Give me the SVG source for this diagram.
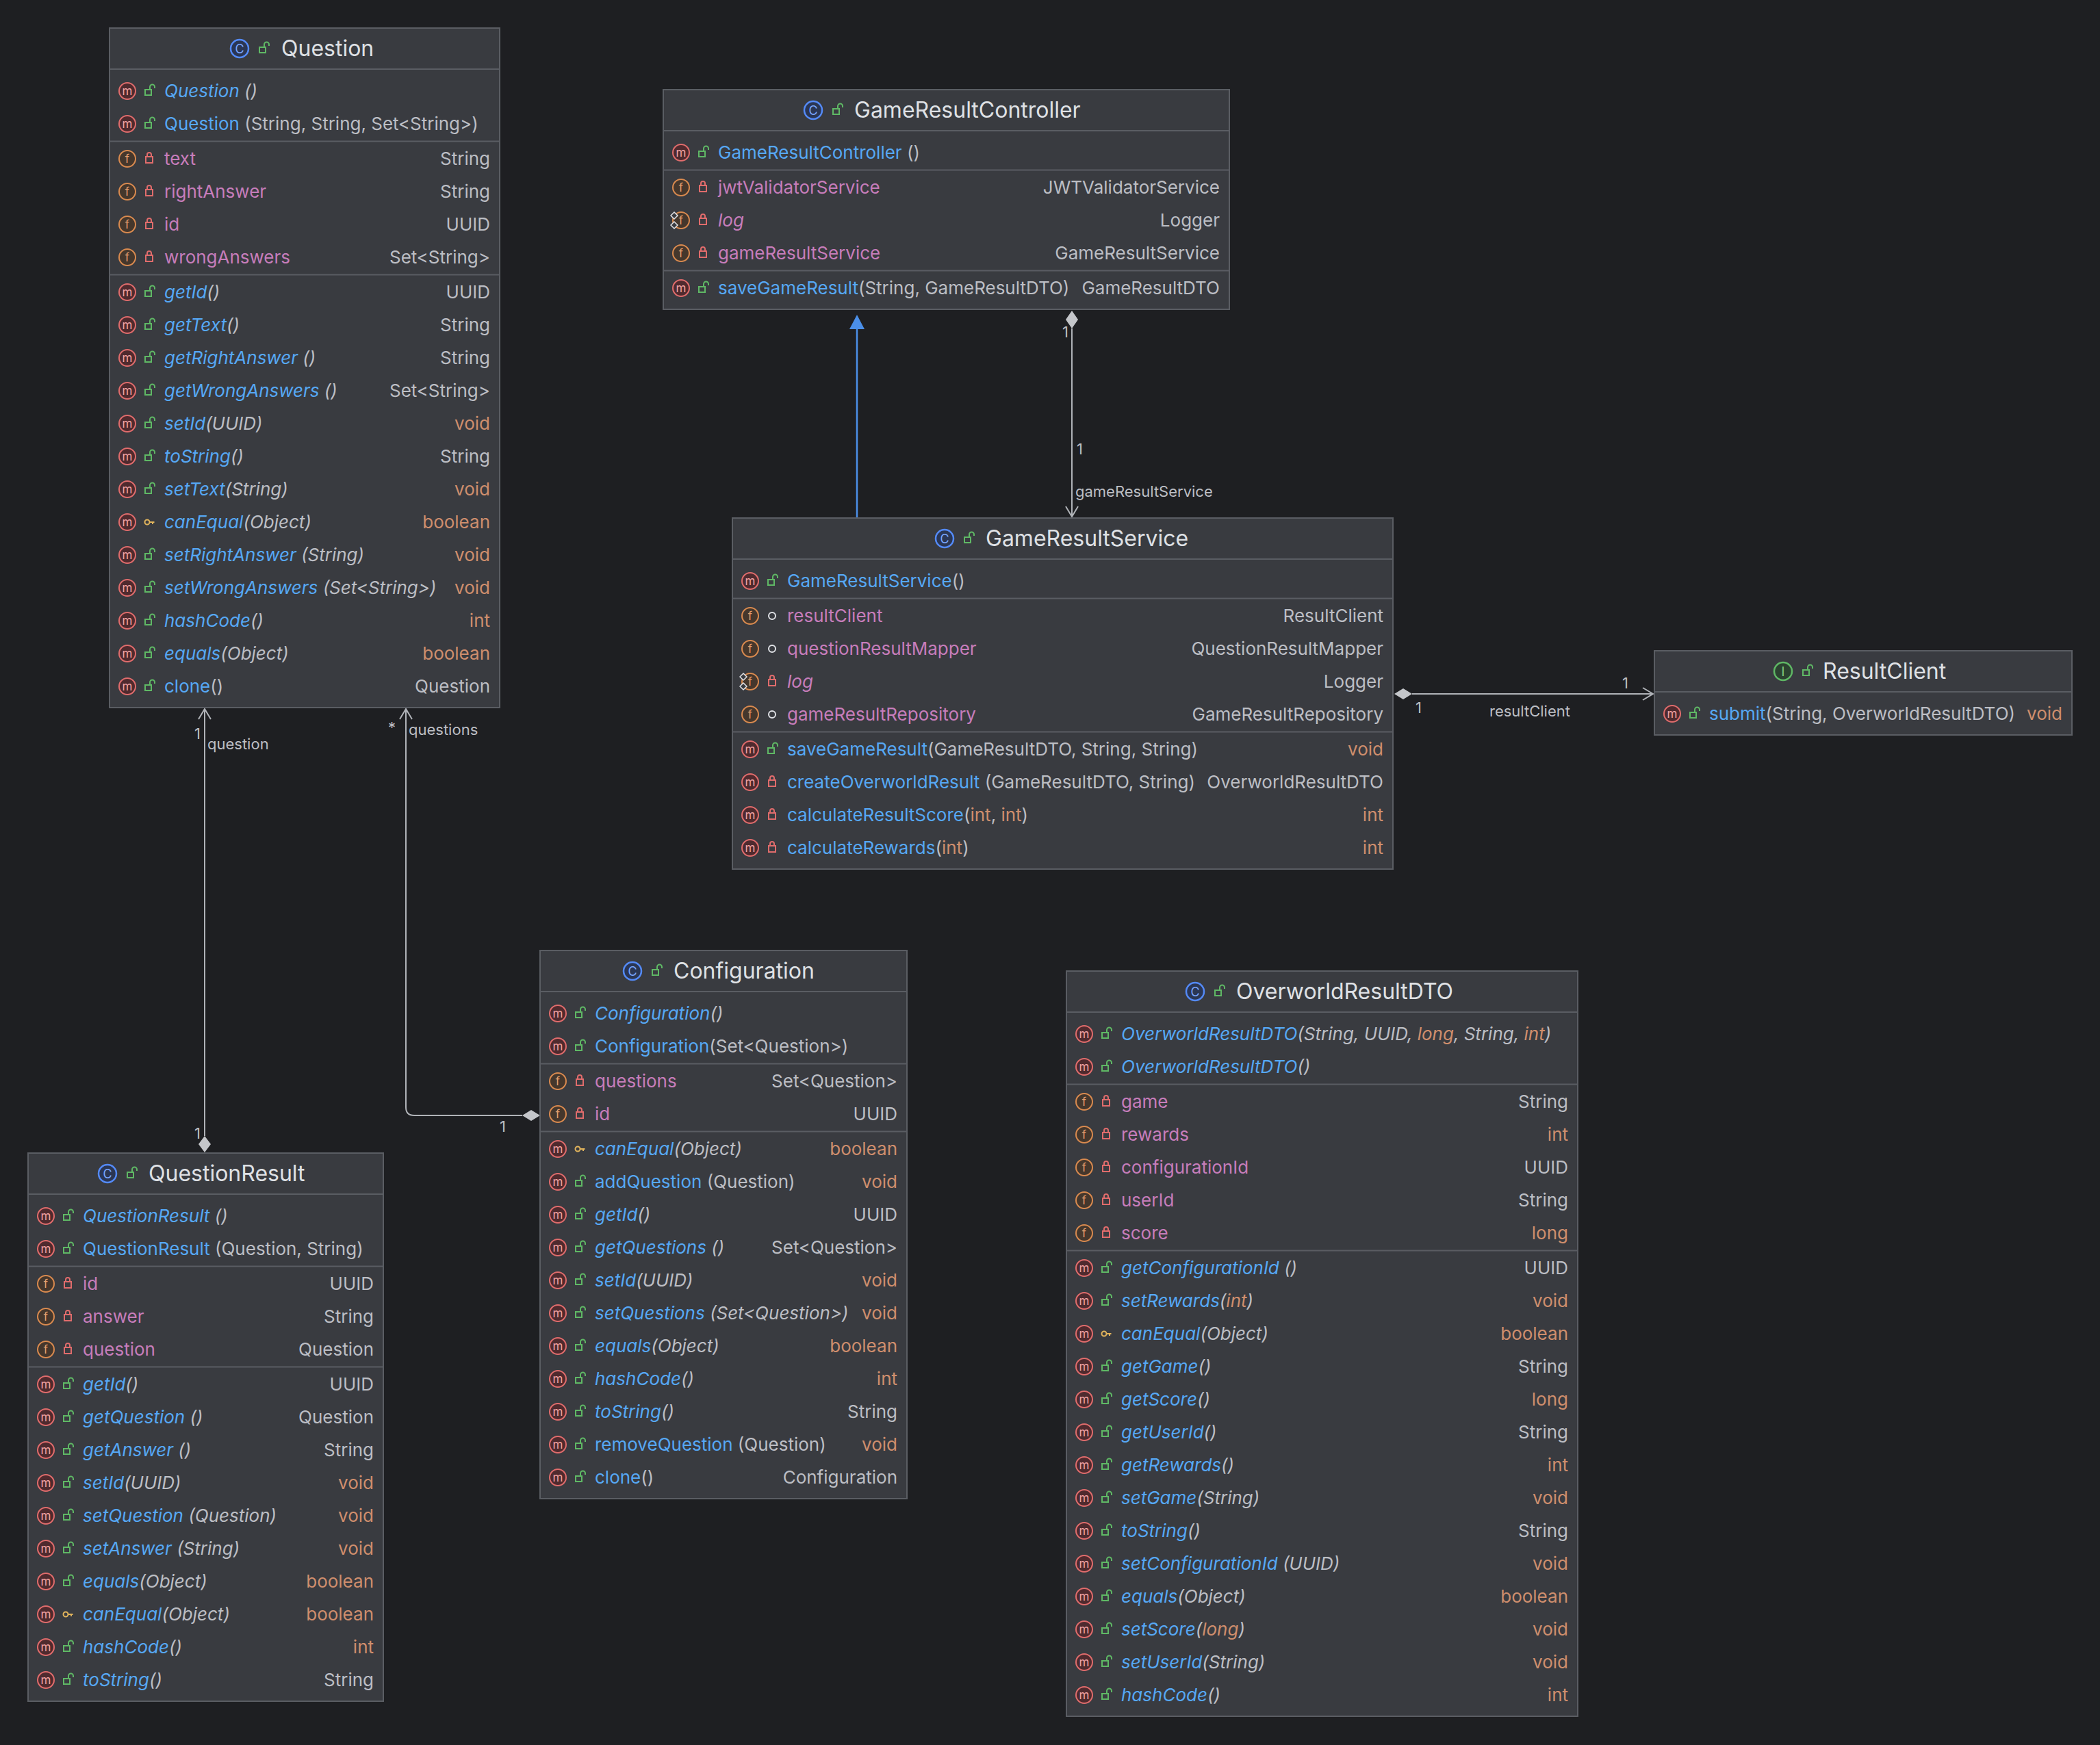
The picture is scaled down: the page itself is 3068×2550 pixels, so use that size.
<svg xmlns="http://www.w3.org/2000/svg" width="3068" height="2550" viewBox="0 0 3068 2550">
<style>
text{font-family:Inter,"Noto Sans","Liberation Sans",sans-serif;font-size:26px;fill:#bcbec4}
.title{font-size:32px;fill:#dfe1e5}
.box{fill:#393b40;stroke:#5a5d63;stroke-width:2}
.sep{stroke:#5a5d63;stroke-width:2}
.n{fill:#56a8f5}.f{fill:#c77dbb}.t{fill:#bcbec4}.p{fill:#cf8e6d}.i{font-style:italic}
.r{text-anchor:end}
.lbl{font-size:22px;fill:#bcbec4}
.c{stroke:#b0b3b8;stroke-width:2;fill:none}
</style>
<defs>
<g id="m"><circle r="12" fill="#4f2a2e" stroke="#e06c6c" stroke-width="2"/><text y="6" text-anchor="middle" style="font-size:17px;fill:#f2a3a3">m</text></g>
<g id="fi"><circle r="12" fill="#45372c" stroke="#d98a4f" stroke-width="2"/><text y="6" text-anchor="middle" style="font-size:17px;fill:#e3a070">f</text></g>
<g id="sf"><circle r="12" fill="#45372c" stroke="#d98a4f" stroke-width="2"/><text y="6" text-anchor="middle" style="font-size:17px;fill:#e3a070">f</text><path d="M-10 -12 l5 5 l-5 5 l-5 -5z M-10 2 l5 5 l-5 5 l-5 -5z" fill="#393b40" stroke="#dfe1e5" stroke-width="1.5"/></g>
<g id="ci"><circle r="13" fill="#2a3654" stroke="#548af7" stroke-width="2.5"/><text y="7" text-anchor="middle" style="font-size:18px;fill:#7aa6ff">C</text></g>
<g id="ii"><circle r="13" fill="#2b4230" stroke="#5fb865" stroke-width="2.5"/><text y="7" text-anchor="middle" style="font-size:18px;fill:#7fd085">I</text></g>
<g id="pub"><rect x="-6" y="0" width="9" height="8" fill="none" stroke="#5fb865" stroke-width="2"/><path d="M1 0 v-4 a3.5 3.5 0 0 1 7 0 v2" stroke="#5fb865" fill="none" stroke-width="2"/></g>
<g id="priv"><rect x="-5" y="-1" width="10" height="9" fill="none" stroke="#e06c6c" stroke-width="2"/><path d="M-3 -1 v-3 a3 3 0 0 1 6 0 v3" stroke="#e06c6c" fill="none" stroke-width="2"/></g>
<g id="prot"><circle cx="-3" cy="0" r="3.5" fill="none" stroke="#e0b35c" stroke-width="2"/><path d="M0.5 0 h7 M5 0 v3" stroke="#e0b35c" stroke-width="2"/></g>
<g id="pkg"><circle r="5" fill="none" stroke="#dfe1e5" stroke-width="2"/></g>
</defs>
<rect width="3068" height="2550" fill="#1e1f22"/>

<g id="connectors">
<line x1="1252" y1="757" x2="1252" y2="478" stroke="#4b8fe8" stroke-width="2.5"/>
<polygon points="1252,460 1241,481 1263,481" fill="#4b8fe8"/>
<polygon points="1566,454 1575,467 1566,480 1557,467" fill="#c4c6ca"/>
<line class="c" x1="1566" y1="480" x2="1566" y2="755"/>
<polyline class="c" points="1557,740 1566,755 1575,740"/>
<polygon points="2037,1014 2050,1006 2063,1014 2050,1022" fill="#c4c6ca"/>
<line class="c" x1="2063" y1="1014" x2="2415" y2="1014"/>
<polyline class="c" points="2400,1005 2415,1014 2400,1023"/>
<polygon points="299,1660 308,1672 299,1684 290,1672" fill="#c4c6ca"/>
<line class="c" x1="299" y1="1660" x2="299" y2="1036"/>
<polyline class="c" points="290,1051 299,1036 308,1051"/>
<polygon points="763,1630 776,1622 789,1630 776,1638" fill="#c4c6ca"/>
<path class="c" d="M763 1630 H605 Q593 1630 593 1618 V1036"/>
<polyline class="c" points="584,1051 593,1036 602,1051"/>
<text class="lbl" x="1552" y="493">1</text>
<text class="lbl" x="1573" y="664">1</text>
<text class="lbl" x="1571" y="726">gameResultService</text>
<text class="lbl" x="2068" y="1042">1</text>
<text class="lbl" x="2370" y="1006">1</text>
<text class="lbl" x="2176" y="1047">resultClient</text>
<text class="lbl" x="284" y="1080">1</text>
<text class="lbl" x="303" y="1095">question</text>
<text class="lbl" x="284" y="1664">1</text>
<text class="lbl" x="567" y="1071">*</text>
<text class="lbl" x="597" y="1074">questions</text>
<text class="lbl" x="730" y="1654">1</text>
</g>

<g id="Question" transform="translate(160,0)">
<rect class="box" x="0" y="41" width="570" height="993"/>
<line class="sep" x1="0" y1="101" x2="570" y2="101"/><line class="sep" x1="0" y1="206.5" x2="570" y2="206.5"/><line class="sep" x1="0" y1="401.5" x2="570" y2="401.5"/>
<use href="#ci" x="190" y="71"/><use href="#pub" x="225" y="69"/><text class="title" x="251" y="82">Question</text>
<use href="#m" x="26" y="133"/><use href="#pub" x="58" y="131"/><text class="i" x="80" y="142"><tspan class="n">Question</tspan> ()</text>
<use href="#m" x="26" y="181"/><use href="#pub" x="58" y="179"/><text x="80" y="190"><tspan class="n">Question</tspan> (String, String, Set&lt;String&gt;)</text>
<use href="#fi" x="26" y="232"/><use href="#priv" x="58" y="230"/><text class="f" x="80" y="241">text</text><text class="r" x="556" y="241">String</text>
<use href="#fi" x="26" y="280"/><use href="#priv" x="58" y="278"/><text class="f" x="80" y="289">rightAnswer</text><text class="r" x="556" y="289">String</text>
<use href="#fi" x="26" y="328"/><use href="#priv" x="58" y="326"/><text class="f" x="80" y="337">id</text><text class="r" x="556" y="337">UUID</text>
<use href="#fi" x="26" y="376"/><use href="#priv" x="58" y="374"/><text class="f" x="80" y="385">wrongAnswers</text><text class="r" x="556" y="385">Set&lt;String&gt;</text>
<use href="#m" x="26" y="427"/><use href="#pub" x="58" y="425"/><text class="i" x="80" y="436"><tspan class="n">getId</tspan>()</text><text class="r" x="556" y="436">UUID</text>
<use href="#m" x="26" y="475"/><use href="#pub" x="58" y="473"/><text class="i" x="80" y="484"><tspan class="n">getText</tspan>()</text><text class="r" x="556" y="484">String</text>
<use href="#m" x="26" y="523"/><use href="#pub" x="58" y="521"/><text class="i" x="80" y="532"><tspan class="n">getRightAnswer</tspan> ()</text><text class="r" x="556" y="532">String</text>
<use href="#m" x="26" y="571"/><use href="#pub" x="58" y="569"/><text class="i" x="80" y="580"><tspan class="n">getWrongAnswers</tspan> ()</text><text class="r" x="556" y="580">Set&lt;String&gt;</text>
<use href="#m" x="26" y="619"/><use href="#pub" x="58" y="617"/><text class="i" x="80" y="628"><tspan class="n">setId</tspan>(UUID)</text><text class="r p" x="556" y="628">void</text>
<use href="#m" x="26" y="667"/><use href="#pub" x="58" y="665"/><text class="i" x="80" y="676"><tspan class="n">toString</tspan>()</text><text class="r" x="556" y="676">String</text>
<use href="#m" x="26" y="715"/><use href="#pub" x="58" y="713"/><text class="i" x="80" y="724"><tspan class="n">setText</tspan>(String)</text><text class="r p" x="556" y="724">void</text>
<use href="#m" x="26" y="763"/><use href="#prot" x="58" y="763"/><text class="i" x="80" y="772"><tspan class="n">canEqual</tspan>(Object)</text><text class="r p" x="556" y="772">boolean</text>
<use href="#m" x="26" y="811"/><use href="#pub" x="58" y="809"/><text class="i" x="80" y="820"><tspan class="n">setRightAnswer</tspan> (String)</text><text class="r p" x="556" y="820">void</text>
<use href="#m" x="26" y="859"/><use href="#pub" x="58" y="857"/><text class="i" x="80" y="868"><tspan class="n">setWrongAnswers</tspan> (Set&lt;String&gt;)</text><text class="r p" x="556" y="868">void</text>
<use href="#m" x="26" y="907"/><use href="#pub" x="58" y="905"/><text class="i" x="80" y="916"><tspan class="n">hashCode</tspan>()</text><text class="r p" x="556" y="916">int</text>
<use href="#m" x="26" y="955"/><use href="#pub" x="58" y="953"/><text class="i" x="80" y="964"><tspan class="n">equals</tspan>(Object)</text><text class="r p" x="556" y="964">boolean</text>
<use href="#m" x="26" y="1003"/><use href="#pub" x="58" y="1001"/><text x="80" y="1012"><tspan class="n">clone</tspan>()</text><text class="r" x="556" y="1012">Question</text>
</g>

<g id="GameResultController" transform="translate(969,0)">
<rect class="box" x="0" y="131" width="827" height="321"/>
<line class="sep" x1="0" y1="191" x2="827" y2="191"/><line class="sep" x1="0" y1="248.5" x2="827" y2="248.5"/><line class="sep" x1="0" y1="395.5" x2="827" y2="395.5"/>
<use href="#ci" x="219" y="161"/><use href="#pub" x="254" y="159"/><text class="title" x="279" y="172">GameResultController</text>
<use href="#m" x="26" y="223"/><use href="#pub" x="58" y="221"/><text x="80" y="232"><tspan class="n">GameResultController</tspan> ()</text>
<use href="#fi" x="26" y="274"/><use href="#priv" x="58" y="272"/><text class="f" x="80" y="283">jwtValidatorService</text><text class="r" x="813" y="283">JWTValidatorService</text>
<use href="#sf" x="26" y="322"/><use href="#priv" x="58" y="320"/><text class="f i" x="80" y="331">log</text><text class="r" x="813" y="331">Logger</text>
<use href="#fi" x="26" y="370"/><use href="#priv" x="58" y="368"/><text class="f" x="80" y="379">gameResultService</text><text class="r" x="813" y="379">GameResultService</text>
<use href="#m" x="26" y="421"/><use href="#pub" x="58" y="419"/><text x="80" y="430"><tspan class="n">saveGameResult</tspan>(String, GameResultDTO)</text><text class="r" x="813" y="430">GameResultDTO</text>
</g>

<g id="GameResultService" transform="translate(1070,0)">
<rect class="box" x="0" y="757" width="965" height="513"/>
<line class="sep" x1="0" y1="817" x2="965" y2="817"/><line class="sep" x1="0" y1="874.5" x2="965" y2="874.5"/><line class="sep" x1="0" y1="1069.5" x2="965" y2="1069.5"/>
<use href="#ci" x="310" y="787"/><use href="#pub" x="345" y="785"/><text class="title" x="370" y="798">GameResultService</text>
<use href="#m" x="26" y="849"/><use href="#pub" x="58" y="847"/><text x="80" y="858"><tspan class="n">GameResultService</tspan>()</text>
<use href="#fi" x="26" y="900"/><use href="#pkg" x="58" y="900"/><text class="f" x="80" y="909">resultClient</text><text class="r" x="951" y="909">ResultClient</text>
<use href="#fi" x="26" y="948"/><use href="#pkg" x="58" y="948"/><text class="f" x="80" y="957">questionResultMapper</text><text class="r" x="951" y="957">QuestionResultMapper</text>
<use href="#sf" x="26" y="996"/><use href="#priv" x="58" y="994"/><text class="f i" x="80" y="1005">log</text><text class="r" x="951" y="1005">Logger</text>
<use href="#fi" x="26" y="1044"/><use href="#pkg" x="58" y="1044"/><text class="f" x="80" y="1053">gameResultRepository</text><text class="r" x="951" y="1053">GameResultRepository</text>
<use href="#m" x="26" y="1095"/><use href="#pub" x="58" y="1093"/><text x="80" y="1104"><tspan class="n">saveGameResult</tspan>(GameResultDTO, String, String)</text><text class="r p" x="951" y="1104">void</text>
<use href="#m" x="26" y="1143"/><use href="#priv" x="58" y="1141"/><text x="80" y="1152"><tspan class="n">createOverworldResult</tspan> (GameResultDTO, String)</text><text class="r" x="951" y="1152">OverworldResultDTO</text>
<use href="#m" x="26" y="1191"/><use href="#priv" x="58" y="1189"/><text x="80" y="1200"><tspan class="n">calculateResultScore</tspan>(<tspan class="p">int</tspan>, <tspan class="p">int</tspan>)</text><text class="r p" x="951" y="1200">int</text>
<use href="#m" x="26" y="1239"/><use href="#priv" x="58" y="1237"/><text x="80" y="1248"><tspan class="n">calculateRewards</tspan>(<tspan class="p">int</tspan>)</text><text class="r p" x="951" y="1248">int</text>
</g>

<g id="ResultClient" transform="translate(2417,0)">
<rect class="box" x="0" y="951" width="610" height="123"/>
<line class="sep" x1="0" y1="1011" x2="610" y2="1011"/>
<use href="#ii" x="188" y="981"/><use href="#pub" x="223" y="979"/><text class="title" x="246" y="992">ResultClient</text>
<use href="#m" x="26" y="1043"/><use href="#pub" x="58" y="1041"/><text x="80" y="1052"><tspan class="n">submit</tspan>(String, OverworldResultDTO)</text><text class="r p" x="596" y="1052">void</text>
</g>

<g id="Configuration" transform="translate(789,0)">
<rect class="box" x="0" y="1389" width="536" height="801"/>
<line class="sep" x1="0" y1="1449" x2="536" y2="1449"/><line class="sep" x1="0" y1="1554.5" x2="536" y2="1554.5"/><line class="sep" x1="0" y1="1653.5" x2="536" y2="1653.5"/>
<use href="#ci" x="135" y="1419"/><use href="#pub" x="170" y="1417"/><text class="title" x="195" y="1430">Configuration</text>
<use href="#m" x="26" y="1481"/><use href="#pub" x="58" y="1479"/><text class="i" x="80" y="1490"><tspan class="n">Configuration</tspan>()</text>
<use href="#m" x="26" y="1529"/><use href="#pub" x="58" y="1527"/><text x="80" y="1538"><tspan class="n">Configuration</tspan>(Set&lt;Question&gt;)</text>
<use href="#fi" x="26" y="1580"/><use href="#priv" x="58" y="1578"/><text class="f" x="80" y="1589">questions</text><text class="r" x="522" y="1589">Set&lt;Question&gt;</text>
<use href="#fi" x="26" y="1628"/><use href="#priv" x="58" y="1626"/><text class="f" x="80" y="1637">id</text><text class="r" x="522" y="1637">UUID</text>
<use href="#m" x="26" y="1679"/><use href="#prot" x="58" y="1679"/><text class="i" x="80" y="1688"><tspan class="n">canEqual</tspan>(Object)</text><text class="r p" x="522" y="1688">boolean</text>
<use href="#m" x="26" y="1727"/><use href="#pub" x="58" y="1725"/><text x="80" y="1736"><tspan class="n">addQuestion</tspan> (Question)</text><text class="r p" x="522" y="1736">void</text>
<use href="#m" x="26" y="1775"/><use href="#pub" x="58" y="1773"/><text class="i" x="80" y="1784"><tspan class="n">getId</tspan>()</text><text class="r" x="522" y="1784">UUID</text>
<use href="#m" x="26" y="1823"/><use href="#pub" x="58" y="1821"/><text class="i" x="80" y="1832"><tspan class="n">getQuestions</tspan> ()</text><text class="r" x="522" y="1832">Set&lt;Question&gt;</text>
<use href="#m" x="26" y="1871"/><use href="#pub" x="58" y="1869"/><text class="i" x="80" y="1880"><tspan class="n">setId</tspan>(UUID)</text><text class="r p" x="522" y="1880">void</text>
<use href="#m" x="26" y="1919"/><use href="#pub" x="58" y="1917"/><text class="i" x="80" y="1928"><tspan class="n">setQuestions</tspan> (Set&lt;Question&gt;)</text><text class="r p" x="522" y="1928">void</text>
<use href="#m" x="26" y="1967"/><use href="#pub" x="58" y="1965"/><text class="i" x="80" y="1976"><tspan class="n">equals</tspan>(Object)</text><text class="r p" x="522" y="1976">boolean</text>
<use href="#m" x="26" y="2015"/><use href="#pub" x="58" y="2013"/><text class="i" x="80" y="2024"><tspan class="n">hashCode</tspan>()</text><text class="r p" x="522" y="2024">int</text>
<use href="#m" x="26" y="2063"/><use href="#pub" x="58" y="2061"/><text class="i" x="80" y="2072"><tspan class="n">toString</tspan>()</text><text class="r" x="522" y="2072">String</text>
<use href="#m" x="26" y="2111"/><use href="#pub" x="58" y="2109"/><text x="80" y="2120"><tspan class="n">removeQuestion</tspan> (Question)</text><text class="r p" x="522" y="2120">void</text>
<use href="#m" x="26" y="2159"/><use href="#pub" x="58" y="2157"/><text x="80" y="2168"><tspan class="n">clone</tspan>()</text><text class="r" x="522" y="2168">Configuration</text>
</g>

<g id="OverworldResultDTO" transform="translate(1558,0)">
<rect class="box" x="0" y="1419" width="747" height="1089"/>
<line class="sep" x1="0" y1="1479" x2="747" y2="1479"/><line class="sep" x1="0" y1="1584.5" x2="747" y2="1584.5"/><line class="sep" x1="0" y1="1827.5" x2="747" y2="1827.5"/>
<use href="#ci" x="188" y="1449"/><use href="#pub" x="223" y="1447"/><text class="title" x="248" y="1460">OverworldResultDTO</text>
<use href="#m" x="26" y="1511"/><use href="#pub" x="58" y="1509"/><text class="i" x="80" y="1520"><tspan class="n">OverworldResultDTO</tspan>(String, UUID, <tspan class="p">long</tspan>, String, <tspan class="p">int</tspan>)</text>
<use href="#m" x="26" y="1559"/><use href="#pub" x="58" y="1557"/><text class="i" x="80" y="1568"><tspan class="n">OverworldResultDTO</tspan>()</text>
<use href="#fi" x="26" y="1610"/><use href="#priv" x="58" y="1608"/><text class="f" x="80" y="1619">game</text><text class="r" x="733" y="1619">String</text>
<use href="#fi" x="26" y="1658"/><use href="#priv" x="58" y="1656"/><text class="f" x="80" y="1667">rewards</text><text class="r p" x="733" y="1667">int</text>
<use href="#fi" x="26" y="1706"/><use href="#priv" x="58" y="1704"/><text class="f" x="80" y="1715">configurationId</text><text class="r" x="733" y="1715">UUID</text>
<use href="#fi" x="26" y="1754"/><use href="#priv" x="58" y="1752"/><text class="f" x="80" y="1763">userId</text><text class="r" x="733" y="1763">String</text>
<use href="#fi" x="26" y="1802"/><use href="#priv" x="58" y="1800"/><text class="f" x="80" y="1811">score</text><text class="r p" x="733" y="1811">long</text>
<use href="#m" x="26" y="1853"/><use href="#pub" x="58" y="1851"/><text class="i" x="80" y="1862"><tspan class="n">getConfigurationId</tspan> ()</text><text class="r" x="733" y="1862">UUID</text>
<use href="#m" x="26" y="1901"/><use href="#pub" x="58" y="1899"/><text class="i" x="80" y="1910"><tspan class="n">setRewards</tspan>(<tspan class="p">int</tspan>)</text><text class="r p" x="733" y="1910">void</text>
<use href="#m" x="26" y="1949"/><use href="#prot" x="58" y="1949"/><text class="i" x="80" y="1958"><tspan class="n">canEqual</tspan>(Object)</text><text class="r p" x="733" y="1958">boolean</text>
<use href="#m" x="26" y="1997"/><use href="#pub" x="58" y="1995"/><text class="i" x="80" y="2006"><tspan class="n">getGame</tspan>()</text><text class="r" x="733" y="2006">String</text>
<use href="#m" x="26" y="2045"/><use href="#pub" x="58" y="2043"/><text class="i" x="80" y="2054"><tspan class="n">getScore</tspan>()</text><text class="r p" x="733" y="2054">long</text>
<use href="#m" x="26" y="2093"/><use href="#pub" x="58" y="2091"/><text class="i" x="80" y="2102"><tspan class="n">getUserId</tspan>()</text><text class="r" x="733" y="2102">String</text>
<use href="#m" x="26" y="2141"/><use href="#pub" x="58" y="2139"/><text class="i" x="80" y="2150"><tspan class="n">getRewards</tspan>()</text><text class="r p" x="733" y="2150">int</text>
<use href="#m" x="26" y="2189"/><use href="#pub" x="58" y="2187"/><text class="i" x="80" y="2198"><tspan class="n">setGame</tspan>(String)</text><text class="r p" x="733" y="2198">void</text>
<use href="#m" x="26" y="2237"/><use href="#pub" x="58" y="2235"/><text class="i" x="80" y="2246"><tspan class="n">toString</tspan>()</text><text class="r" x="733" y="2246">String</text>
<use href="#m" x="26" y="2285"/><use href="#pub" x="58" y="2283"/><text class="i" x="80" y="2294"><tspan class="n">setConfigurationId</tspan> (UUID)</text><text class="r p" x="733" y="2294">void</text>
<use href="#m" x="26" y="2333"/><use href="#pub" x="58" y="2331"/><text class="i" x="80" y="2342"><tspan class="n">equals</tspan>(Object)</text><text class="r p" x="733" y="2342">boolean</text>
<use href="#m" x="26" y="2381"/><use href="#pub" x="58" y="2379"/><text class="i" x="80" y="2390"><tspan class="n">setScore</tspan>(<tspan class="p">long</tspan>)</text><text class="r p" x="733" y="2390">void</text>
<use href="#m" x="26" y="2429"/><use href="#pub" x="58" y="2427"/><text class="i" x="80" y="2438"><tspan class="n">setUserId</tspan>(String)</text><text class="r p" x="733" y="2438">void</text>
<use href="#m" x="26" y="2477"/><use href="#pub" x="58" y="2475"/><text class="i" x="80" y="2486"><tspan class="n">hashCode</tspan>()</text><text class="r p" x="733" y="2486">int</text>
</g>

<g id="QuestionResult" transform="translate(41,0)">
<rect class="box" x="0" y="1685" width="519" height="801"/>
<line class="sep" x1="0" y1="1745" x2="519" y2="1745"/><line class="sep" x1="0" y1="1850.5" x2="519" y2="1850.5"/><line class="sep" x1="0" y1="1997.5" x2="519" y2="1997.5"/>
<use href="#ci" x="116" y="1715"/><use href="#pub" x="151" y="1713"/><text class="title" x="176" y="1726">QuestionResult</text>
<use href="#m" x="26" y="1777"/><use href="#pub" x="58" y="1775"/><text class="i" x="80" y="1786"><tspan class="n">QuestionResult</tspan> ()</text>
<use href="#m" x="26" y="1825"/><use href="#pub" x="58" y="1823"/><text x="80" y="1834"><tspan class="n">QuestionResult</tspan> (Question, String)</text>
<use href="#fi" x="26" y="1876"/><use href="#priv" x="58" y="1874"/><text class="f" x="80" y="1885">id</text><text class="r" x="505" y="1885">UUID</text>
<use href="#fi" x="26" y="1924"/><use href="#priv" x="58" y="1922"/><text class="f" x="80" y="1933">answer</text><text class="r" x="505" y="1933">String</text>
<use href="#fi" x="26" y="1972"/><use href="#priv" x="58" y="1970"/><text class="f" x="80" y="1981">question</text><text class="r" x="505" y="1981">Question</text>
<use href="#m" x="26" y="2023"/><use href="#pub" x="58" y="2021"/><text class="i" x="80" y="2032"><tspan class="n">getId</tspan>()</text><text class="r" x="505" y="2032">UUID</text>
<use href="#m" x="26" y="2071"/><use href="#pub" x="58" y="2069"/><text class="i" x="80" y="2080"><tspan class="n">getQuestion</tspan> ()</text><text class="r" x="505" y="2080">Question</text>
<use href="#m" x="26" y="2119"/><use href="#pub" x="58" y="2117"/><text class="i" x="80" y="2128"><tspan class="n">getAnswer</tspan> ()</text><text class="r" x="505" y="2128">String</text>
<use href="#m" x="26" y="2167"/><use href="#pub" x="58" y="2165"/><text class="i" x="80" y="2176"><tspan class="n">setId</tspan>(UUID)</text><text class="r p" x="505" y="2176">void</text>
<use href="#m" x="26" y="2215"/><use href="#pub" x="58" y="2213"/><text class="i" x="80" y="2224"><tspan class="n">setQuestion</tspan> (Question)</text><text class="r p" x="505" y="2224">void</text>
<use href="#m" x="26" y="2263"/><use href="#pub" x="58" y="2261"/><text class="i" x="80" y="2272"><tspan class="n">setAnswer</tspan> (String)</text><text class="r p" x="505" y="2272">void</text>
<use href="#m" x="26" y="2311"/><use href="#pub" x="58" y="2309"/><text class="i" x="80" y="2320"><tspan class="n">equals</tspan>(Object)</text><text class="r p" x="505" y="2320">boolean</text>
<use href="#m" x="26" y="2359"/><use href="#prot" x="58" y="2359"/><text class="i" x="80" y="2368"><tspan class="n">canEqual</tspan>(Object)</text><text class="r p" x="505" y="2368">boolean</text>
<use href="#m" x="26" y="2407"/><use href="#pub" x="58" y="2405"/><text class="i" x="80" y="2416"><tspan class="n">hashCode</tspan>()</text><text class="r p" x="505" y="2416">int</text>
<use href="#m" x="26" y="2455"/><use href="#pub" x="58" y="2453"/><text class="i" x="80" y="2464"><tspan class="n">toString</tspan>()</text><text class="r" x="505" y="2464">String</text>
</g>
</svg>
